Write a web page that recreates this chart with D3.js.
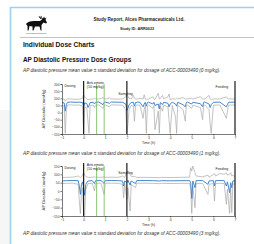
<!DOCTYPE html>
<html>
<head>
<meta charset="utf-8">
<script src="https://cdn.jsdelivr.net/npm/d3@7"></script>
<style>
  body { margin: 0; background: #fff; }
  text { font-family: "Liberation Sans", Arial, sans-serif; }
</style>
</head>
<body>
<script>
// page size
var w = 254;
var h = 244;

// chart 1: 0 mg/kg
var time0  = [-1, -0.9, -0.85, -0.8, -0.75, -0.6, -0.4, -0.2, -0.05, 0, 0.05, 0.15, 0.2, 0.25, 0.3, 0.45, 0.5, 0.55, 0.7, 0.9, 0.95, 1.0, 1.2, 1.25, 1.3, 1.5, 1.8, 1.95, 2.0, 2.05, 2.1, 2.2, 2.3, 2.35, 2.4, 2.5, 2.6, 2.75, 2.8, 2.85, 2.9, 2.95, 3.0, 3.2, 3.25, 3.3, 3.45, 3.5, 3.55, 3.65, 3.7, 3.9, 3.95, 4.0, 4.1, 4.25, 4.3, 4.35, 4.6, 4.7, 4.75, 4.8, 5.0, 5.05, 5.4, 5.5, 5.55, 5.6, 5.8, 5.85, 5.9, 6.0, 6.3, 6.6, 6.65, 6.7, 7.0];
var mean0  = [70, 68, 10, 55, 72, 74, 72, 73, 70, 40, 68, 62, 35, 50, 70, 72, 60, 72, 74, 55, 72, 73, 65, 72, 74, 73, 72, 60, 15, 30, 55, 70, 72, 45, 70, 73, 72, 40, 60, 72, 45, 70, 73, 60, 72, 50, 60, 25, 70, 55, 72, 65, 40, 60, 72, 60, 45, 72, 55, 40, 70, 73, 60, 72, 62, 40, 72, 74, 60, 35, 55, 72, 73, 40, 55, 72, 73];
var upper0 = [92, 95, 80, 90, 96, 95, 93, 94, 100, 125, 110, 95, 90, 92, 94, 95, 100, 96, 95, 105, 96, 95, 102, 95, 96, 94, 95, 110, 125, 115, 100, 95, 120, 100, 96, 95, 100, 95, 125, 96, 90, 95, 94, 110, 95, 92, 135, 95, 100, 120, 96, 110, 130, 90, 96, 95, 100, 96, 105, 95, 96, 95, 100, 95, 110, 95, 96, 95, 120, 95, 90, 96, 95, 110, 98, 96, 95];
var lower0 = [50, 45, -145, 20, 52, 54, 52, 53, 45, -140, 40, 30, -60, -145, 50, 52, 35, 52, 54, 30, 50, 53, 40, 52, 54, 53, 52, 20, -145, -80, 20, 50, 45, -60, 50, 53, 52, -40, 20, 50, -145, 48, 53, 30, 50, -120, 10, -145, 45, 10, 52, 40, -50, -145, 50, -30, -145, 52, 20, -60, 50, 53, 30, 52, 35, -50, 52, 54, 20, -80, -145, 52, 53, -40, 10, 52, 53];

// chart 2: 1 mg/kg
var time1  = [-1, -0.8, -0.5, -0.25, -0.2, -0.15, -0.1, -0.05, 0, 0.05, 0.1, 0.2, 0.4, 0.5, 0.55, 0.8, 0.95, 1.0, 1.3, 1.6, 1.8, 1.85, 1.9, 2.0, 2.05, 2.15, 2.2, 2.4, 2.45, 2.8, 3.2, 3.5, 3.6, 4.0, 4.5, 4.9, 4.95, 5.0, 5.05, 5.15, 5.2, 5.5, 5.75, 5.8, 6.0, 6.05, 6.1, 6.3, 6.5, 6.6, 6.65, 6.75, 6.8, 6.85, 6.9, 7.0];
var mean1  = [60, 62, 63, 62, 30, -20, 40, 55, 20, -25, 40, 60, 62, 45, 62, 63, 45, 62, 63, 62, 60, 30, 60, 50, 65, 35, 60, 45, 62, 63, 62, 60, 62, 61, 62, 62, 50, -45, 60, 20, 62, 63, 40, 60, 62, 30, 62, 63, 62, 30, 55, -10, 50, 20, 60, 62];
var upper1 = [80, 82, 83, 90, 85, 80, 85, 95, 110, 95, 88, 82, 82, 85, 83, 82, 85, 82, 83, 82, 90, 85, 82, 110, 120, 100, 88, 85, 82, 82, 81, 80, 82, 81, 82, 83, 140, 120, 150, 110, 90, 85, 95, 83, 100, 105, 90, 105, 100, 110, 95, 100, 110, 90, 95, 85];
var lower1 = [45, 46, 47, 40, -60, -135, 0, 20, -140, -145, 10, 44, 46, 0, 46, 47, -20, 46, 47, 46, 40, -40, 44, -50, 20, -120, 40, 20, 46, 47, 46, 44, 46, 45, 46, 46, 20, -135, 30, -100, 44, 46, -20, 40, 45, -60, 44, 46, 45, -80, 10, -135, 20, -130, 40, 45];

var xTicks = [-1, 0, 1, 2, 3, 4, 5, 6, 7];
var yTicks0 = [200, 150, 100, 50, 0, -50, -100, -150];
var yTicks1 = [150, 100, 50, 0, -50, -100, -150];

// event markers (hours)
var blackLines = [0, 2, 7];
var greenLines = [0.6, 0.95];

var captions = [
  "AP diastolic pressure mean value \u00b1 standard deviation for dosage of ACC-00003490 (0 mg/kg).",
  "AP diastolic pressure mean value \u00b1 standard deviation for dosage of ACC-00003490 (1 mg/kg).",
  "AP diastolic pressure mean value \u00b1 standard deviation for dosage of ACC-00003490 (3 mg/kg)."
];

var svg = d3.select("body").append("svg")
  .attr("width", w)
  .attr("height", h);

// faint gray margin strip + page border
svg.append("rect").attr("x", 0).attr("y", 110).attr("width", 10).attr("height", 134).attr("fill", "#f6f6f6");
svg.append("path")
  .attr("d", "M10.5,244 V7.5 H254")
  .attr("fill", "none")
  .attr("stroke", "#9fd1ea")
  .attr("stroke-width", 1.6);

// logo (moose)
var logo = svg.append("g").attr("fill", "#111");
logo.append("path")
  .attr("d", "M26,24 Q28,21 34,21 L40,21 L42,19.5 L41,17 L43,18.5 L44,16.5 L45,18.5 L46.5,17.5 L45.5,20 L47,22.5 L46,23.5 L43.5,22.5 L41.5,25 L41.5,30.5 L40.6,30.5 L39.5,26.5 L35,26.5 L33.5,30.5 L32.6,30.5 L32.5,26.5 L29.5,26 L28.6,30.5 L27.6,30.5 L27.5,26 Z");
logo.append("path")
  .attr("d", "M40.5,19 L38.5,16.5 L39.5,16.2 L40.5,17.8 L40.8,15.8 L41.6,16.2 L41.3,18.5 Z");
svg.append("text").attr("x", 36).attr("y", 33.5).attr("text-anchor", "middle")
  .attr("font-size", "1.8px").attr("fill", "#444").text("Alces Pharmaceuticals Ltd.");

// header
svg.append("text").attr("x", 139).attr("y", 21).attr("text-anchor", "middle")
  .attr("font-size", "4.6px").attr("font-weight", "bold").attr("fill", "#222")
  .text("Study Report, Alces Pharmaceuticals Ltd.");
svg.append("text").attr("x", 137).attr("y", 29.5).attr("text-anchor", "middle")
  .attr("font-size", "3.8px").attr("font-weight", "bold").attr("fill", "#222")
  .text("Study ID: ARR0023");
svg.append("line").attr("x1", 20).attr("x2", 254).attr("y1", 37.5).attr("y2", 37.5)
  .attr("stroke", "#aaa").attr("stroke-width", 0.7);

svg.append("text").attr("x", 23).attr("y", 47).attr("font-size", "6.6px")
  .attr("font-weight", "bold").attr("fill", "#111").text("Individual Dose Charts");
svg.append("text").attr("x", 23).attr("y", 62).attr("font-size", "6.4px")
  .attr("font-weight", "bold").attr("fill", "#111").text("AP Diastolic Pressure Dose Groups");

svg.selectAll("text.caption")
  .data(captions)
  .enter()
  .append("text")
  .attr("class", "caption")
  .attr("x", 23)
  .attr("y", function(d, i) { return [72.3, 154.8, 235][i]; })
  .attr("font-size", "4.7px")
  .attr("font-style", "italic")
  .attr("fill", "#333")
  .text(function(d) { return d; });

function drawChart(top, bottom, yTicks, time, mean, upper, lower, labels) {
  var xScale = d3.scaleLinear().domain([-1, 7]).range([62, 235]);
  var yScale = d3.scaleLinear().domain([yTicks[yTicks.length - 1], yTicks[0]]).range([bottom, top]);
  var g = svg.append("g");

  var line = d3.line()
    .x(function(d) { return xScale(d[0]); })
    .y(function(d) { return yScale(d[1]); });

  [upper, lower].forEach(function(s) {
    g.append("path")
      .datum(time.map(function(t, i) { return [t, s[i]]; }))
      .attr("d", line)
      .attr("fill", "none")
      .attr("stroke", "#a9a9a9")
      .attr("stroke-width", 0.7);
  });
  g.append("path")
    .datum(time.map(function(t, i) { return [t, mean[i]]; }))
    .attr("d", line)
    .attr("fill", "none")
    .attr("stroke", "#4a86cc")
    .attr("stroke-width", 1.0);

  g.selectAll("line.green")
    .data(greenLines)
    .enter()
    .append("line")
    .attr("x1", function(d) { return xScale(d); })
    .attr("x2", function(d) { return xScale(d); })
    .attr("y1", top).attr("y2", bottom)
    .attr("stroke", "#7cc26a").attr("stroke-width", 0.9);
  g.selectAll("line.black")
    .data(blackLines)
    .enter()
    .append("line")
    .attr("x1", function(d) { return xScale(d); })
    .attr("x2", function(d) { return xScale(d); })
    .attr("y1", top - 3).attr("y2", bottom)
    .attr("stroke", "#1a1a1a").attr("stroke-width", 1.2);

  // axes
  var yAxis = d3.axisLeft(yScale).tickValues(yTicks).tickSize(1.5).tickPadding(1);
  var gy = g.append("g").attr("transform", "translate(62,0)").call(yAxis);
  var xAxis = d3.axisBottom(xScale).tickValues(xTicks).tickSize(1.5).tickPadding(1);
  var gx = g.append("g").attr("transform", "translate(0," + bottom + ")").call(xAxis);
  [gx, gy].forEach(function(a) {
    a.selectAll("path, line").attr("stroke", "#222").attr("stroke-width", 0.6);
    a.selectAll("text").attr("font-size", "3.3px").attr("fill", "#333")
      .attr("font-family", "Liberation Sans, Arial, sans-serif");
  });

  g.append("text")
    .attr("x", xScale(3)).attr("y", bottom + 10)
    .attr("text-anchor", "middle").attr("font-size", "3.6px").attr("fill", "#333")
    .text("Time (h)");
  g.append("text")
    .attr("transform", "translate(45," + ((top + bottom) / 2) + ") rotate(-90)")
    .attr("text-anchor", "middle").attr("font-size", "4.2px").attr("fill", "#333")
    .text("AP Diastolic (mmHg)");

  g.selectAll("text.ann")
    .data(labels)
    .enter()
    .append("text")
    .attr("class", "ann")
    .attr("x", function(d) { return xScale(d[0]); })
    .attr("y", function(d) { return yScale(d[1]); })
    .attr("font-size", "3.5px").attr("fill", "#222")
    .text(function(d) { return d[2]; });
}

drawChart(84, 134, yTicks0, time0, mean0, upper0, lower0, [
  [-0.88, 178, "Dosing"], [0.15, 198, "Anti-emetic"], [0.15, 172, "(10 mg/kg)"],
  [1.6, 122, "Sampling"], [6.1, 172, "Feeding"]
]);
drawChart(166, 216, yTicks1, time1, mean1, upper1, lower1, [
  [-0.88, 130, "Dosing"], [0.15, 152, "Anti-emetic"], [0.15, 128, "(10 mg/kg)"],
  [1.6, 100, "Sampling"], [6.1, 125, "Feeding"]
]);
</script>
</body>
</html>
